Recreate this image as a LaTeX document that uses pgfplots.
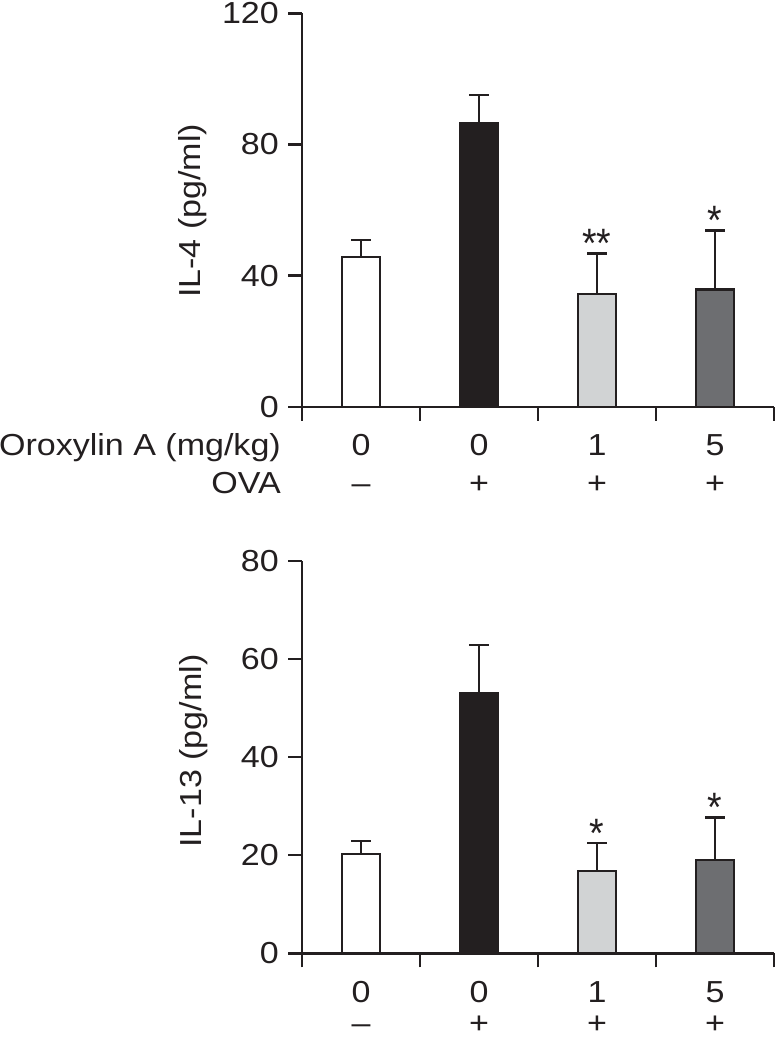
\documentclass[border=0pt]{standalone}
\usepackage{fontspec}
\setmainfont{Liberation Sans}[FakeStretch=1.12]
\usepackage{pgfplots}
\pgfplotsset{compat=1.18}
\definecolor{barblack}{HTML}{231F20}
\definecolor{barlight}{HTML}{D1D3D4}
\definecolor{bardark}{HTML}{6D6E71}
\tikzset{lab/.style={anchor=base, inner sep=0pt, text=barblack}}
\newcommand{\sig}[1]{\scalebox{1.1}[1.35]{#1}}
\pgfplotsset{
  panel/.style={
    scale only axis, width=472bp,
    axis lines=left, axis line style={-, line width=2.4bp, barblack},
    tick align=outside, tick pos=left, major tick length=14bp,
    tick style={line width=2.4bp, barblack},
    xmin=0.5, xmax=4.5, xtick={0.5,1.5,2.5,3.5,4.5}, xticklabels={},
    ymin=0,
    /pgf/number format/assume math mode=true,
    yticklabel style={anchor=east, inner sep=0pt, xshift=-9bp, text=barblack},
    ybar, bar width=38bp, bar shift=0pt,
    clip=false,
    every axis plot/.append style={draw=barblack, line width=2.4bp,
      error bars/y dir=plus, error bars/y explicit,
      error bars/error bar style={line width=2.4bp, barblack},
      error bars/error mark options={rotate=90, line width=2.4bp, mark size=10bp, barblack}},
  },
}
\begin{document}
\fontsize{30.5}{36}\selectfont
\begin{tikzpicture}
\useasboundingbox (0,0) rectangle (776bp,-1039bp);
% ---------- top panel: IL-4 ----------
\begin{axis}[panel, at={(302bp,-406.7bp)}, anchor=south west,
  height=393.4bp, ymax=120, ytick={0,40,80,120}]
\addplot[fill=white] coordinates {(1,45.7) +- (0,5.1)};
\addplot[fill=barblack] coordinates {(2,86.6) +- (0,8.5)};
\addplot[fill=barlight] coordinates {(3,34.4) +- (0,12.3)};
\addplot[fill=bardark] coordinates {(4,35.8) +- (0,18.0)};
\node[lab] at (axis cs:3,45.6) {\sig{**}};
\node[lab] at (axis cs:4,52.6) {\sig{*}};
\node[lab, yshift=-48.8bp] at (axis cs:1,0) {0};
\node[lab, yshift=-48.8bp] at (axis cs:2,0) {0};
\node[lab, yshift=-48.8bp] at (axis cs:3,0) {1};
\node[lab, yshift=-48.8bp] at (axis cs:4,0) {5};
\node[lab, yshift=-87bp] at (axis cs:1,0) {–};
\node[lab, yshift=-87bp] at (axis cs:2,0) {+};
\node[lab, yshift=-87bp] at (axis cs:3,0) {+};
\node[lab, yshift=-87bp] at (axis cs:4,0) {+};
\end{axis}
\node[anchor=base east, inner sep=0pt, text=barblack] at (281bp,-455.5bp) {Oroxylin A (mg/kg)};
\node[anchor=base east, inner sep=0pt, text=barblack] at (281bp,-493.7bp) {OVA};
\node[rotate=90, anchor=base, inner sep=0pt, text=barblack] at (200bp,-211bp) {IL-4 (pg/ml)};
% ---------- bottom panel: IL-13 ----------
\begin{axis}[panel, at={(302bp,-953.3bp)}, anchor=south west,
  height=392.6bp, ymax=80, ytick={0,20,40,60,80}]
\addplot[fill=white] coordinates {(1,20.2) +- (0,2.7)};
\addplot[fill=barblack] coordinates {(2,53.0) +- (0,9.8)};
\addplot[fill=barlight] coordinates {(3,16.8) +- (0,5.7)};
\addplot[fill=bardark] coordinates {(4,19.0) +- (0,8.7)};
\node[lab] at (axis cs:3,21.6) {\sig{*}};
\node[lab] at (axis cs:4,26.8) {\sig{*}};
\node[lab, yshift=-49.5bp] at (axis cs:1,0) {0};
\node[lab, yshift=-49.5bp] at (axis cs:2,0) {0};
\node[lab, yshift=-49.5bp] at (axis cs:3,0) {1};
\node[lab, yshift=-49.5bp] at (axis cs:4,0) {5};
\node[lab, yshift=-80bp] at (axis cs:1,0) {–};
\node[lab, yshift=-80bp] at (axis cs:2,0) {+};
\node[lab, yshift=-80bp] at (axis cs:3,0) {+};
\node[lab, yshift=-80bp] at (axis cs:4,0) {+};
\end{axis}
\node[rotate=90, anchor=base, inner sep=0pt, text=barblack] at (201bp,-751bp) {IL-13 (pg/ml)};
\end{tikzpicture}
\end{document}
